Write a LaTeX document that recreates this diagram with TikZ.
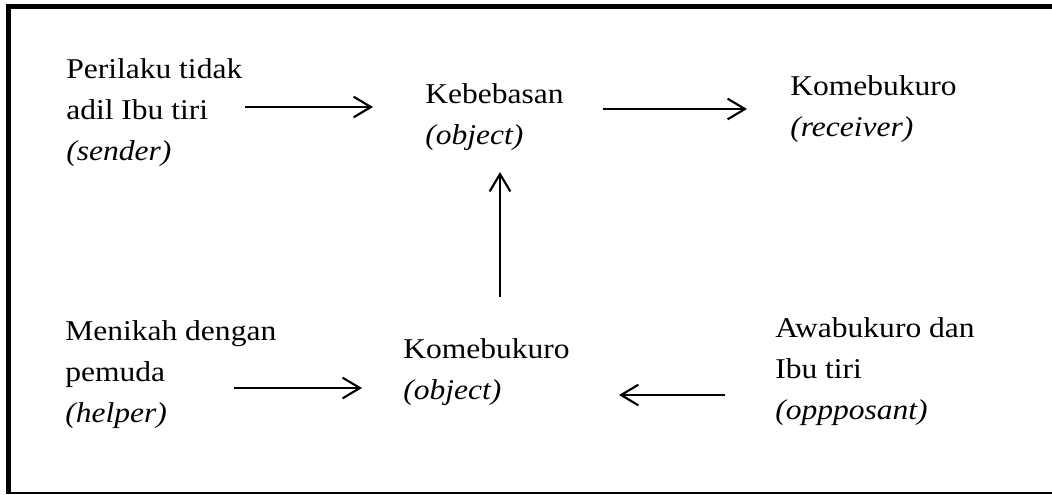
\documentclass[tikz,border=0pt]{standalone}
\usepackage{fontspec}
\setmainfont{Liberation Serif}[FakeStretch=1.10]
\usepackage{tikz}
\usetikzlibrary{arrows.meta,positioning,calc}

\begin{document}
\begin{tikzpicture}[x=0.75pt, y=-0.75pt,
    aktan/.style={align=left, inner sep=0pt, anchor=base west, font=\fontsize{21.5pt}{30.75pt}\selectfont},
    panah/.style={-{Straight Barb[length=13pt,width=15.5pt]}, line width=1.6pt}]
\useasboundingbox (0,0) rectangle (1052,494);

% bingkai
\draw[line width=3.75pt] (6,6.5) -- (1052,6.5);
\draw[line width=3.75pt] (8.5,4) -- (8.5,494);
\draw[line width=1.2pt] (8,492.8) -- (1052,492.8);

% aktan
\node[aktan] (sender) at (66,160) {Perilaku tidak\\adil Ibu tiri\\\textit{(sender)}};
\node[aktan] (objek) at (425,144) {Kebebasan\\\textit{(object)}};
\node[aktan] (receiver) at (790,136) {Komebukuro\\\textit{(receiver)}};
\node[aktan] (helper) at (65,422) {Menikah dengan\\pemuda\\\textit{(helper)}};
\node[aktan] (subjek) at (403,399) {Komebukuro\\\textit{(object)}};
\node[aktan] (opponent) at (775,419) {Awabukuro dan\\Ibu tiri\\\textit{(oppposant)}};

% panah
\draw[panah] ($(sender.base west)+(179,-53)$) -- ($(objek.base west)+(-52,-37)$);
\draw[panah] ($(objek.base west)+(178,-35)$) -- ($(receiver.base west)+(-43,-27)$);
\draw[panah] ($(subjek.base west)+(97,-102)$) -- ($(objek.base west)+(75,28)$);
\draw[panah] ($(helper.base west)+(169,-34)$) -- ($(subjek.base west)+(-41,-11)$);
\draw[panah] ($(opponent.base west)+(-50,-24)$) -- ($(subjek.base west)+(216,-4)$);
\end{tikzpicture}
\end{document}
